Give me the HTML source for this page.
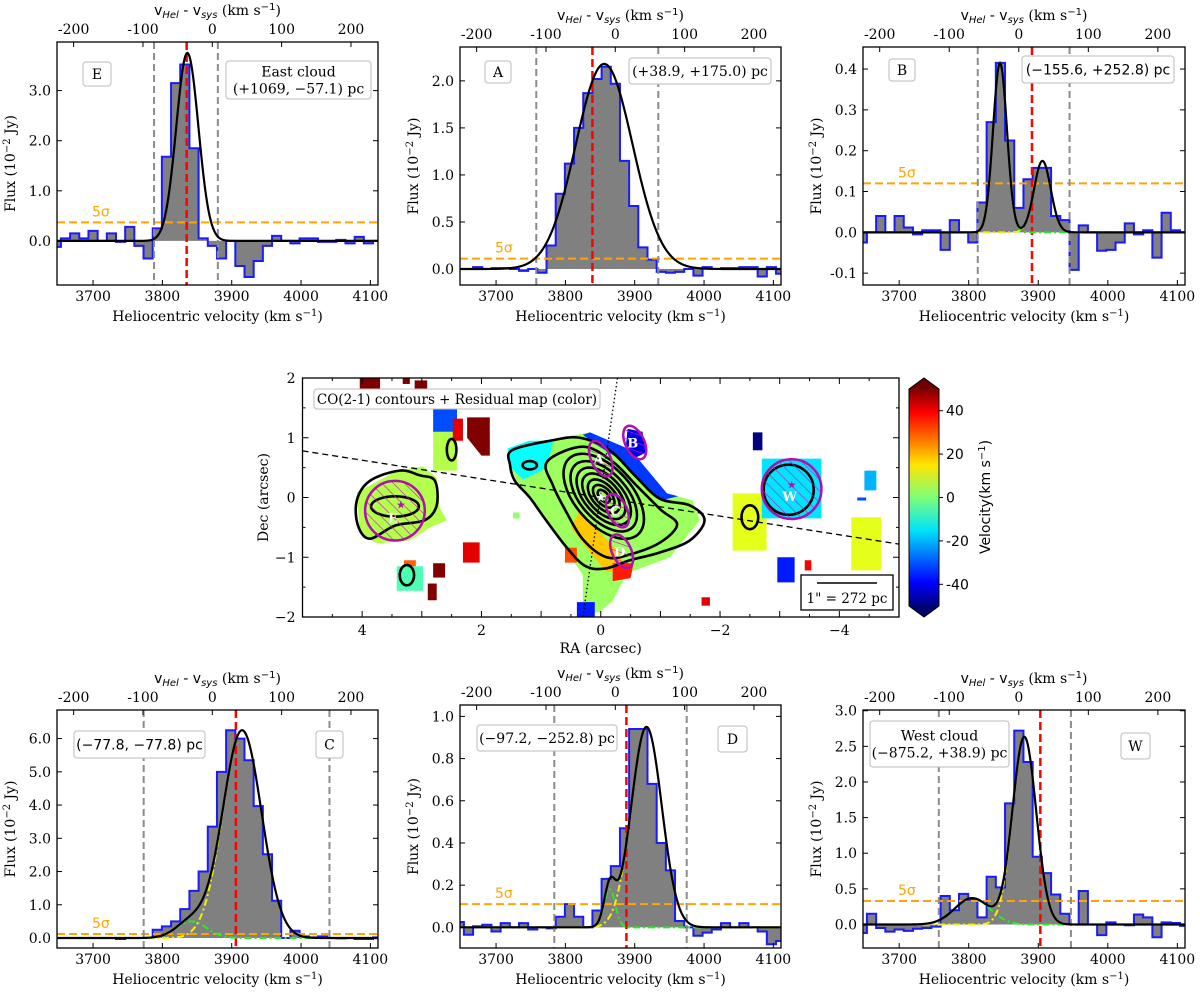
<!DOCTYPE html>
<html><head><meta charset="utf-8"><style>
html,body{margin:0;padding:0;background:#fff;}
svg{display:block;}
text{font-family:"DejaVu Serif","Liberation Serif",serif;fill:#000;}
.sans{font-family:"DejaVu Sans","Liberation Sans",sans-serif;}
</style></head><body>
<svg id="fig" width="1200" height="993" viewBox="0 0 1200 993" xmlns="http://www.w3.org/2000/svg">
<defs>
<pattern id="hatch" patternUnits="userSpaceOnUse" width="8" height="8" patternTransform="rotate(-45)">
<line x1="0" y1="0" x2="0" y2="8" stroke="#c020c0" stroke-width="1.3"/></pattern>
<linearGradient id="jetgrad" x1="0" y1="1" x2="0" y2="0">
<stop offset="0" stop-color="#00007f"/><stop offset="0.11" stop-color="#0000ff"/><stop offset="0.35" stop-color="#00e4f8"/><stop offset="0.5" stop-color="#7dff7a"/><stop offset="0.65" stop-color="#ffe600"/><stop offset="0.89" stop-color="#ff0000"/><stop offset="1" stop-color="#7f0000"/>
</linearGradient>
</defs>
</svg>
<script>
// ---------- spectral data (10^-2 Jy), bins of 13.24 km/s starting 3640.4 ----------
const binStart = 3640.4, binWidth = 13.24, vsys = 3872;
const eVals = [-0.12,0.05,0.15,0.05,0.2,0.0,0.15,-0.02,0.28,-0.1,-0.35,0.25,1.68,3.15,3.52,1.85,0.05,-0.1,-0.35,0.0,-0.5,-0.72,-0.4,-0.1,0.1,0.0,-0.05,0.05,0.05,-0.02,-0.02,0.02,-0.05,0.08,-0.05,0.0];
const aVals = [0,0.0,0.02,0.0,0.01,0.01,0.0,-0.02,0.0,-0.04,0.25,0.8,1.12,1.5,1.87,2.02,2.15,1.97,1.15,0.67,0.23,0.1,-0.03,-0.04,-0.03,0.0,-0.07,0.02,0.0,0.01,0.01,0.02,0.02,-0.08,0.02,-0.05];
const bVals = [-0.025,0.0,0.04,0.0,0.04,0.012,-0.005,0.005,0.005,-0.043,0.03,0.0,-0.025,0.073,0.27,0.415,0.225,0.06,0.13,0.158,0.158,0.04,0.03,-0.092,0.017,0.0,-0.045,-0.043,-0.025,0.022,-0.005,0.005,-0.062,0.048,0.005,0.0];
const cVals = [0,0,0,0,0,0,0,-0.03,0,0,0,0.25,0.35,0.5,0.87,1.42,2.0,3.35,5.0,6.25,6.0,5.35,3.97,2.52,1.12,0.0,0.22,0.05,0.02,0.05,0,-0.01,0,-0.03,-0.03,0.02];
const dVals = [0.025,-0.035,0.005,0.012,-0.02,0.02,0.0,0.02,-0.01,0.0,-0.005,0.05,0.11,0.05,0.0,0.08,0.23,0.29,0.47,0.94,0.94,0.68,0.4,0.27,0.03,0.0,-0.04,-0.025,-0.01,0.02,0.0,0.02,0.0,-0.02,-0.08,-0.065];
const wVals = [-0.12,0.15,-0.05,-0.1,-0.07,-0.09,-0.06,-0.05,-0.03,0.4,0.2,0.43,0.35,0.1,0.67,0.52,1.7,2.72,2.28,0.95,0.72,0.42,0.15,0.0,0.47,0.0,-0.15,0.03,0.0,-0.01,0.14,0.1,-0.18,0.03,0.02,-0.02];
// gaussian components [amplitude, centre, sigma]
const eFit = [[3.75,3836,16]];
const aFit = [[2.18,3856,41]];
const bFit = [[0.415,3845,10],[0.175,3906,12]];
const cFit = [[0.5,3842,22],[6.25,3915,28]];
const dFit = [[0.18,3864,8],[0.95,3917,22]];
const wFit = [[0.37,3805,25],[2.63,3880,17]];
// vertical markers [grayLeft, grayRight, red], 5 sigma level
const eMarks = [3788,3880,3835], eSig = 0.37;
const aMarks = [3758,3934,3839], aSig = 0.11;
const bMarks = [3813,3945,3891], bSig = 0.12;
const cMarks = [3773,4041,3906], cSig = 0.12;
const dMarks = [3784,3975,3888], dSig = 0.11;
const wMarks = [3757,3947,3903], wSig = 0.33;
const topTicks = [-200,-100,0,100,200];
const botTicks = [3700,3800,3900,4000,4100];

const NS = "http://www.w3.org/2000/svg";
const fig = document.getElementById('fig');
function el(tag, attrs, parent, txt){
  const e = document.createElementNS(NS, tag);
  for (const k in attrs) e.setAttribute(k, attrs[k]);
  if (txt !== undefined) e.textContent = txt;
  (parent||fig).appendChild(e); return e;
}
const XMIN = 3648, XMAX = 4111;
const FS = 14;

const panels = [
 {id:'e', L:57,R:378,T:42,B:285, y0:-0.88,y1:3.97, yt:[0,1,2,3], dec:1, vals:eVals, fit:eFit, marks:eMarks, sig:eSig,
  boxes:[{t:['E'],x:83,y:62,w:28,h:24,name:'region-label-e'},{t:['East cloud','(+1069, −57.1) pc'],x:226,y:61,w:145,h:38,name:'position-label-e'}]},
 {id:'a', L:460,R:781,T:47,B:285, y0:-0.17,y1:2.36, yt:[0,0.5,1,1.5,2], dec:1, vals:aVals, fit:aFit, marks:aMarks, sig:aSig,
  boxes:[{t:['A'],x:485,y:61,w:26,h:22,name:'region-label-a'},{t:['(+38.9, +175.0) pc'],x:629,y:58,w:142,h:26,name:'position-label-a'}]},
 {id:'b', L:863,R:1185,T:47,B:285, y0:-0.129,y1:0.454, yt:[-0.1,0,0.1,0.2,0.3,0.4], dec:1, vals:bVals, fit:bFit, marks:bMarks, sig:bSig,
  boxes:[{t:['B'],x:889,y:59,w:26,h:22,name:'region-label-b'},{t:['(−155.6, +252.8) pc'],x:1022,y:56,w:152,h:27,name:'position-label-b',sans:1}]},
 {id:'c', L:57,R:378,T:710,B:948, y0:-0.3,y1:6.86, yt:[0,1,2,3,4,5,6], dec:1, vals:cVals, fit:cFit, marks:cMarks, sig:cSig,
  boxes:[{t:['(−77.8, −77.8) pc'],x:74,y:731,w:131,h:27,name:'position-label-c',sans:1},{t:['C'],x:316,y:731,w:27,h:27,name:'region-label-c'}]},
 {id:'d', L:460,R:781,T:705,B:948, y0:-0.098,y1:1.054, yt:[0,0.2,0.4,0.6,0.8,1.0], dec:1, vals:dVals, fit:dFit, marks:dMarks, sig:dSig,
  boxes:[{t:['(−97.2, −252.8) pc'],x:477,y:725,w:140,h:26,name:'position-label-d'},{t:['D'],x:718,y:726,w:29,h:26,name:'region-label-d'}]},
 {id:'w', L:863,R:1185,T:710,B:948, y0:-0.33,y1:3.01, yt:[0,0.5,1,1.5,2,2.5,3], dec:1, vals:wVals, fit:wFit, marks:wMarks, sig:wSig,
  boxes:[{t:['West cloud','(−875.2, +38.9) pc'],x:870,y:721,w:139,h:46,name:'position-label-w'},{t:['W'],x:1121,y:733,w:29,h:26,name:'region-label-w'}]}
];

function gauss(v, g){ return g[0]*Math.exp(-((v-g[1])**2)/(2*g[2]*g[2])); }

panels.forEach(p => {
  const g = el('g', {});
  
  
  const sx = v => p.L + (v - XMIN)/(XMAX - XMIN)*(p.R - p.L);
  const sy = f => p.B - (f - p.y0)/(p.y1 - p.y0)*(p.B - p.T);
  const cid = 'clip' + p.id;
  const cp = el('clipPath', {id:cid}, g);
  el('rect', {x:p.L, y:p.T, width:p.R-p.L, height:p.B-p.T}, cp);
  const pg = el('g', {'clip-path':'url(#'+cid+')'}, g);
  let d = '', fillD = '';
  p.vals.forEach((v,i) => {
    const x0 = sx(binStart + i*binWidth), x1 = sx(binStart + (i+1)*binWidth);
    d += (i===0 ? 'M'+x0+','+sy(v) : 'L'+x0+','+sy(v)) + 'L'+x1+','+sy(v);
  });
  p.vals.forEach((v,i) => {
    const x0 = sx(binStart + i*binWidth), x1 = sx(binStart + (i+1)*binWidth);
    fillD += 'M'+x0+','+sy(0)+'L'+x0+','+sy(v)+'L'+x1+','+sy(v)+'L'+x1+','+sy(0)+'Z';
  });
  const fill = el('path', {d:fillD, fill:'#808080', stroke:'none'}, pg);
  
  
  const step = el('path', {d:d, fill:'none', stroke:'#1a1aff', 'stroke-width':2}, pg);
  
  
  const sl = el('line', {x1:p.L, x2:p.R, y1:sy(p.sig), y2:sy(p.sig), stroke:'#ffa500', 'stroke-width':2, 'stroke-dasharray':'8,4'}, pg);
  
  
  const st = el('text', {x:p.L+35, y:sy(p.sig)-6, 'font-size':14, style:'fill:#ffa500', class:'sans'}, g, '5σ');
  
  
  [p.marks[0], p.marks[1]].forEach(m => {
    const l = el('line', {x1:sx(m), x2:sx(m), y1:p.T, y2:p.B, stroke:'#8c8c8c', 'stroke-width':2, 'stroke-dasharray':'7,4'}, pg);
    
    
  });
  const rl = el('line', {x1:sx(p.marks[2]), x2:sx(p.marks[2]), y1:p.T, y2:p.B, stroke:'#ff0000', 'stroke-width':2.5, 'stroke-dasharray':'8,4'}, pg);
  
  
  if (p.fit.length > 1) {
    const cols = ['#22ee22', '#f2f200'];
    p.fit.forEach((gp, k) => {
      let cd = '';
      for (let v = XMIN; v <= XMAX; v += 1) cd += (v===XMIN?'M':'L') + sx(v) + ',' + sy(gauss(v,gp));
      const c = el('path', {d:cd, fill:'none', stroke:cols[k], 'stroke-width':2, 'stroke-dasharray':'7,3,2,3'}, pg);
      
      
    });
  }
  let td = '';
  for (let v = XMIN; v <= XMAX; v += 1) {
    let s = 0; p.fit.forEach(gp => s += gauss(v, gp));
    td += (v===XMIN?'M':'L') + sx(v) + ',' + sy(s);
  }
  const tl = el('path', {d:td, fill:'none', stroke:'#000', 'stroke-width':2.2}, pg);
  
  
  el('rect', {x:p.L, y:p.T, width:p.R-p.L, height:p.B-p.T, fill:'none', stroke:'#000', 'stroke-width':1.3}, g);
  const yl = el('g', {}, g);
  
  
  p.yt.forEach(t => {
    const y = sy(t);
    el('line', {x1:p.L, x2:p.L+5, y1:y, y2:y, stroke:'#000', 'stroke-width':1}, yl);
    el('line', {x1:p.R, x2:p.R-5, y1:y, y2:y, stroke:'#000', 'stroke-width':1}, yl);
    el('text', {x:p.L-6, y:y+5, 'font-size':FS, 'text-anchor':'end'}, yl, t.toFixed(p.dec));
  });
  const xl = el('g', {}, g);
  
  
  botTicks.forEach(t => {
    const x = sx(t);
    el('line', {x1:x, x2:x, y1:p.B, y2:p.B-5, stroke:'#000', 'stroke-width':1}, xl);
    el('text', {x:x, y:p.B+16, 'font-size':FS, 'text-anchor':'middle'}, xl, String(t));
  });
  const xt = el('g', {}, g);
  
  
  topTicks.forEach(t => {
    const x = sx(vsys + t);
    el('line', {x1:x, x2:x, y1:p.T, y2:p.T+5, stroke:'#000', 'stroke-width':1}, xt);
    el('text', {x:x, y:p.T-8, 'font-size':FS, 'text-anchor':'middle'}, xt, String(t));
  });
  const cx = (p.L+p.R)/2;
  const bt = el('text', {x:cx, y:p.B+36, 'font-size':FS, 'text-anchor':'middle'}, g);
  
  
  bt.innerHTML = 'Heliocentric velocity (km s<tspan dy="-5" font-size="10">−1</tspan><tspan dy="5">)</tspan>';
  const tt = el('text', {x:cx, y:p.T-27, 'font-size':FS, 'text-anchor':'middle', class:'sans'}, g);
  
  
  tt.innerHTML = 'v<tspan dy="3" font-size="10" font-style="italic">Hel</tspan><tspan dy="-3"> - v</tspan><tspan dy="3" font-size="10" font-style="italic">sys</tspan><tspan dy="-3" font-family="DejaVu Serif"> (km s</tspan><tspan dy="-5" font-size="10">−1</tspan><tspan dy="5" font-family="DejaVu Serif">)</tspan>';
  const ly = (p.T+p.B)/2, lx = p.L-42;
  const ylab = el('text', {x:lx, y:ly, 'font-size':FS, 'text-anchor':'middle', transform:'rotate(-90 '+lx+' '+ly+')'}, g);
  
  
  ylab.innerHTML = 'Flux (10<tspan dy="-5" font-size="10">−2</tspan><tspan dy="5"> Jy)</tspan>';
  p.boxes.forEach(b => {
    const bg = el('g', {}, g);
    
    
    el('rect', {x:b.x, y:b.y, width:b.w, height:b.h, rx:3, fill:'#fff', stroke:'#bbb', 'stroke-width':1}, bg);
    const n = b.t.length;
    b.t.forEach((s, i) => {
      const t = el('text', {x:b.x+b.w/2, y:b.y + b.h/2 + 5 + (i - (n-1)/2)*17, 'font-size':14, 'text-anchor':'middle'}, bg, s);
      if (b.sans) t.setAttribute('class', 'sans');
    });
  });
});

// ---------- central map ----------
const mapL = 302.5, mapR = 899, mapT = 378, mapB = 617;
const mx = ra => mapL + (5 - ra)/10*(mapR - mapL);
const my = de => mapT + (2 - de)/4*(mapB - mapT);
const raTicks = [4,2,0,-2,-4], decTicks = [2,1,0,-1,-2], cbTicks = [40,20,0,-20,-40];
const patchVals = [3,-32,-40,18,35,-12,-35,5,5,-30,50,40,50,50,50,-5,28,50,50,40,2,10,-15,-50,10,-20,-35,38,40,30,-30];
const patchPolys = [
 [1.56,0.82,0.69,1.0,0.18,1.09,-0.40,0.84,-0.65,0.62,-1.11,0.07,-1.54,-0.05,-1.66,-0.38,-1.16,-1.0,-0.44,-1.27,-0.2,-1.73,0.02,-1.92,0.3,-1.92,0.3,-1.3,0.69,-0.72,0.97,-0.33,1.41,0.28,1.56,0.62],
 [0.3,1.05,0.18,1.09,-0.40,0.84,-0.65,0.62,-1.11,0.07,-1.3,0.02,-1.0,-0.05,-0.6,0.35,-0.3,0.65,0.1,0.9],
 [-0.45,1.15,-0.7,1.1,-0.75,0.75,-0.55,0.65,-0.42,0.85],
 [0.35,-0.2,0.0,-0.6,-0.3,-0.9,-0.4,-1.2,-0.1,-1.25,0.2,-0.9,0.5,-0.5],
 [-0.2,-1.1,-0.55,-1.1,-0.5,-1.35,-0.2,-1.4],
 [1.56,0.82,1.2,0.95,0.8,0.95,0.9,0.5,1.3,0.3,1.5,0.5],
 [0.4,-1.75,0.1,-1.75,0.1,-2.0,0.4,-2.0],
 [4.09,0.08,3.42,0.45,2.98,0.52,2.75,0.33,2.70,-0.17,2.58,-0.38,2.86,-0.5,3.2,-0.72,3.75,-0.77,4.04,-0.6],
 [2.81,1.1,2.41,1.1,2.41,0.45,2.81,0.45],
 [2.81,1.49,2.41,1.49,2.41,1.1,2.81,1.1],
 [2.24,1.34,1.86,1.34,1.86,0.7,2.0,0.7,2.24,1.0],
 [2.48,1.32,2.31,1.32,2.31,0.95,2.48,0.95],
 [4.04,2.0,3.7,2.0,3.7,1.82,4.04,1.82],
 [3.32,2.0,3.2,2.0,3.2,1.9,3.32,1.9],
 [3.12,1.96,2.91,1.96,2.91,1.79,3.12,1.79],
 [3.42,-1.15,2.98,-1.15,2.98,-1.56,3.42,-1.56],
 [3.3,-1.05,3.1,-1.05,3.1,-1.15,3.3,-1.15],
 [2.81,-1.1,2.61,-1.1,2.61,-1.34,2.81,-1.34],
 [2.9,-1.44,2.75,-1.44,2.75,-1.72,2.9,-1.72],
 [2.31,-0.75,2.03,-0.75,2.03,-1.09,2.31,-1.09],
 [1.47,-0.25,1.36,-0.25,1.36,-0.35,1.47,-0.35],
 [-2.21,0.07,-2.78,0.07,-2.78,-0.89,-2.21,-0.89],
 [-2.7,0.65,-3.7,0.65,-3.7,-0.35,-2.7,-0.35],
 [-2.55,1.09,-2.71,1.09,-2.71,0.79,-2.55,0.79],
 [-4.2,-0.33,-4.7,-0.33,-4.7,-1.22,-4.2,-1.22],
 [-4.42,0.45,-4.62,0.45,-4.62,0.12,-4.42,0.12],
 [-2.96,-1.0,-3.25,-1.0,-3.25,-1.42,-2.96,-1.42],
 [-3.42,-1.05,-3.53,-1.05,-3.53,-1.22,-3.42,-1.22],
 [-1.69,-1.67,-1.83,-1.67,-1.83,-1.81,-1.69,-1.81],
 [0.6,-0.84,0.4,-0.84,0.4,-1.09,0.6,-1.09],
 [-4.3,-0.0,-4.45,0.0,-4.45,-0.05,-4.3,-0.05]
];
function jet(v){
  const t = Math.max(0, Math.min(1, (v + 50)/100));
  const r = Math.max(0, Math.min(1, 1.5 - Math.abs(4*t - 3)));
  const g = Math.max(0, Math.min(1, 1.5 - Math.abs(4*t - 2)));
  const b = Math.max(0, Math.min(1, 1.5 - Math.abs(4*t - 1)));
  return 'rgb(' + Math.round(r*255) + ',' + Math.round(g*255) + ',' + Math.round(b*255) + ')';
}
function catmull(pts){
  const n = pts.length/2; let d = '';
  const P = i => [mx(pts[((i+n)%n)*2]), my(pts[((i+n)%n)*2+1])];
  for (let i = 0; i < n; i++){
    const p0 = P(i-1), p1 = P(i), p2 = P(i+1), p3 = P(i+2);
    if (i === 0) d += 'M' + p1[0] + ',' + p1[1];
    d += 'C' + (p1[0]+(p2[0]-p0[0])/6) + ',' + (p1[1]+(p2[1]-p0[1])/6) + ' ' + (p2[0]-(p3[0]-p1[0])/6) + ',' + (p2[1]-(p3[1]-p1[1])/6) + ' ' + p2[0] + ',' + p2[1];
  }
  return d + 'Z';
}
const mapG = el('g', {});


const mcp = el('clipPath', {id:'mapclip'}, mapG);
el('rect', {x:mapL, y:mapT, width:mapR-mapL, height:mapB-mapT}, mcp);
const mg = el('g', {'clip-path':'url(#mapclip)'}, mapG);
patchVals.forEach((v, i) => {
  const pts = patchPolys[i];
  let d = '';
  for (let k = 0; k < pts.length; k += 2) d += (k===0?'M':'L') + mx(pts[k]) + ',' + my(pts[k+1]);
  const pa = el('path', {d:d + 'Z', fill:jet(v), stroke:'none'}, mg);
  
  
});
const contourOuter = [1.49,0.79,0.85,0.95,0.35,1.0,-0.15,0.79,-0.57,0.37,-0.99,-0.02,-1.49,-0.13,-1.74,-0.38,-1.49,-0.72,-0.99,-0.92,-0.49,-1.05,-0.07,-1.19,0.27,-1.14,0.6,-0.8,0.94,-0.35,1.19,0.0,1.44,0.28,1.52,0.54];
const contourSecond = [0.9,0.6,0.3,0.85,-0.2,0.6,-0.6,0.2,-1.0,-0.2,-1.28,-0.45,-1.0,-0.75,-0.5,-0.95,-0.1,-1.0,0.3,-0.7,0.6,-0.2,0.8,0.2];
const contourEast = [4.09,-0.05,3.87,0.28,3.37,0.45,3.03,0.37,2.78,0.28,2.75,-0.13,2.95,-0.38,3.45,-0.47,3.87,-0.69,4.07,-0.47];
const contourMajor = [0.13,0.23,0.34,0.46,0.58,0.71,0.86];
const cg = el('g', {fill:'none', stroke:'#000', 'stroke-width':2.6}, mg);


[contourOuter, contourSecond, contourEast].forEach(c => el('path', {d:catmull(c)}, cg));
const sc = (mapR-mapL)/10;
contourMajor.forEach(a => {
  el('ellipse', {cx:mx(-0.05), cy:my(0.02), rx:a*sc, ry:a*sc*0.55, transform:'rotate(48 '+mx(-0.05)+' '+my(0.02)+')'}, cg);
});
const smallC = [[1.19,0.54,0.12,0.07],[2.5,0.8,0.08,0.18],[3.25,-1.3,0.12,0.17],[-2.5,-0.33,0.14,0.2],[3.45,-0.15,0.4,0.17],[-3.15,0.13,0.42,0.42]];
smallC.forEach(s => el('ellipse', {cx:mx(s[0]), cy:my(s[1]), rx:s[2]*sc, ry:s[3]*sc}, cg));
const pa1 = el('line', {x1:mx(5), y1:my(0.78), x2:mx(-5), y2:my(-0.78), stroke:'#000', 'stroke-width':1.3, 'stroke-dasharray':'6,4'}, mg);


const pa2 = el('line', {x1:mx(-0.28), y1:my(2), x2:mx(0.3), y2:my(-2), stroke:'#000', 'stroke-width':1.3, 'stroke-dasharray':'1.5,2.5'}, mg);


const regions = [['A',-0.0,0.65,0.16,0.32,-25],['B',-0.57,0.92,0.16,0.3,-25],['C',-0.28,-0.22,0.16,0.3,-25],['D',-0.35,-0.9,0.16,0.3,-25],['E',3.45,-0.22,0.5,0.5,0],['W',-3.2,0.14,0.5,0.5,0]];
regions.forEach(r => {
  const rg = el('g', {}, mg);
  
  
  const cx = mx(r[1]), cy = my(r[2]);
  el('ellipse', {cx:cx, cy:cy, rx:r[3]*sc, ry:r[4]*sc, fill:'url(#hatch)', stroke:'#b010b0', 'stroke-width':2.5, transform:'rotate('+r[5]+' '+cx+' '+cy+')'}, rg);
  el('text', {x:cx-2, y:cy+(r[3]>0.3?12:5), 'font-size':13, 'font-weight':'bold', 'text-anchor':'middle', style:'fill:#fff'}, rg, r[0]);
});
el('text', {x:mx(0), y:my(0)+4, 'font-size':12, 'text-anchor':'middle', style:'fill:#fff'}, mg, '★');
el('text', {x:mx(3.35), y:my(-0.12)+4, 'font-size':11, 'text-anchor':'middle', style:'fill:#b010b0'}, mg, '★');
el('text', {x:mx(-3.2), y:my(0.22)+4, 'font-size':11, 'text-anchor':'middle', style:'fill:#b010b0'}, mg, '★');
el('rect', {x:mapL, y:mapT, width:mapR-mapL, height:mapB-mapT, fill:'none', stroke:'#000', 'stroke-width':1.3}, mapG);
const mxa = el('g', {}, mapG);


for (let r = -5; r <= 5; r += 0.5) {
  const L = (r % 1 === 0) ? 6 : 3;
  el('line', {x1:mx(r), x2:mx(r), y1:mapB, y2:mapB-L, stroke:'#000'}, mxa);
  el('line', {x1:mx(r), x2:mx(r), y1:mapT, y2:mapT+L, stroke:'#000'}, mxa);
}
raTicks.forEach(r => el('text', {x:mx(r), y:mapB+18, 'font-size':FS, 'text-anchor':'middle'}, mxa, r < 0 ? '−' + (-r) : String(r)));
const rat = el('text', {x:(mapL+mapR)/2, y:mapB+36, 'font-size':FS, 'text-anchor':'middle'}, mapG, 'RA (arcsec)');


const mya = el('g', {}, mapG);


for (let dd = -2; dd <= 2; dd += 0.5) {
  const L = (dd % 1 === 0) ? 6 : 3;
  el('line', {x1:mapL, x2:mapL+L, y1:my(dd), y2:my(dd), stroke:'#000'}, mya);
  el('line', {x1:mapR, x2:mapR-L, y1:my(dd), y2:my(dd), stroke:'#000'}, mya);
}
decTicks.forEach(dd => el('text', {x:mapL-7, y:my(dd)+5, 'font-size':FS, 'text-anchor':'end'}, mya, dd < 0 ? '−' + (-dd) : String(dd)));
const dlx = 268, dly = (mapT+mapB)/2;
const dt = el('text', {x:dlx, y:dly, 'font-size':FS, 'text-anchor':'middle', transform:'rotate(-90 '+dlx+' '+dly+')'}, mapG, 'Dec (arcsec)');


const lg = el('g', {}, mapG);


el('rect', {x:314, y:389, width:286, height:20, rx:3, fill:'#fff', stroke:'#bbb'}, lg);
el('text', {x:457, y:404, 'font-size':13.5, 'text-anchor':'middle'}, lg, 'CO(2-1) contours + Residual map (color)');
const sb = el('g', {}, mapG);


el('rect', {x:801, y:575, width:92, height:35, fill:'#fff', stroke:'#000', 'stroke-width':1.3}, sb);
el('line', {x1:817, x2:877, y1:583, y2:583, stroke:'#000', 'stroke-width':1.5}, sb);
el('text', {x:847, y:603, 'font-size':13.5, 'text-anchor':'middle'}, sb, '1" = 272 pc');
const cbG = el('g', {}, fig);


const cbL = 909, cbR = 939, cbTop = 389, cbBot = 606;
const cy = v => cbBot - (v + 50)/100*(cbBot - cbTop);
el('path', {d:'M'+cbL+','+cbTop+'L'+(cbL+cbR)/2+',378L'+cbR+','+cbTop+'Z', fill:'#6f0000'}, cbG);
el('path', {d:'M'+cbL+','+cbBot+'L'+(cbL+cbR)/2+',617L'+cbR+','+cbBot+'Z', fill:'#00006f'}, cbG);
el('rect', {x:cbL, y:cbTop, width:cbR-cbL, height:cbBot-cbTop, fill:'url(#jetgrad)'}, cbG);
el('path', {d:'M'+cbL+','+cbTop+'L'+(cbL+cbR)/2+',378L'+cbR+','+cbTop+'L'+cbR+','+cbBot+'L'+(cbL+cbR)/2+',617L'+cbL+','+cbBot+'Z', fill:'none', stroke:'#000', 'stroke-width':1}, cbG);
cbTicks.forEach(v => {
  el('line', {x1:cbR, x2:cbR+4, y1:cy(v), y2:cy(v), stroke:'#000'}, cbG);
  el('text', {x:cbR+7, y:cy(v)+5, 'font-size':FS, class:'sans'}, cbG, v < 0 ? '-' + (-v) : String(v));
});
const cbt = el('text', {x:990, y:497, 'font-size':FS, 'text-anchor':'middle', class:'sans', transform:'rotate(-90 990 497)'}, cbG);


cbt.innerHTML = 'Velocity(km s<tspan dy="-5" font-size="10">−1</tspan><tspan dy="5">)</tspan>';
</script>
</body></html>
